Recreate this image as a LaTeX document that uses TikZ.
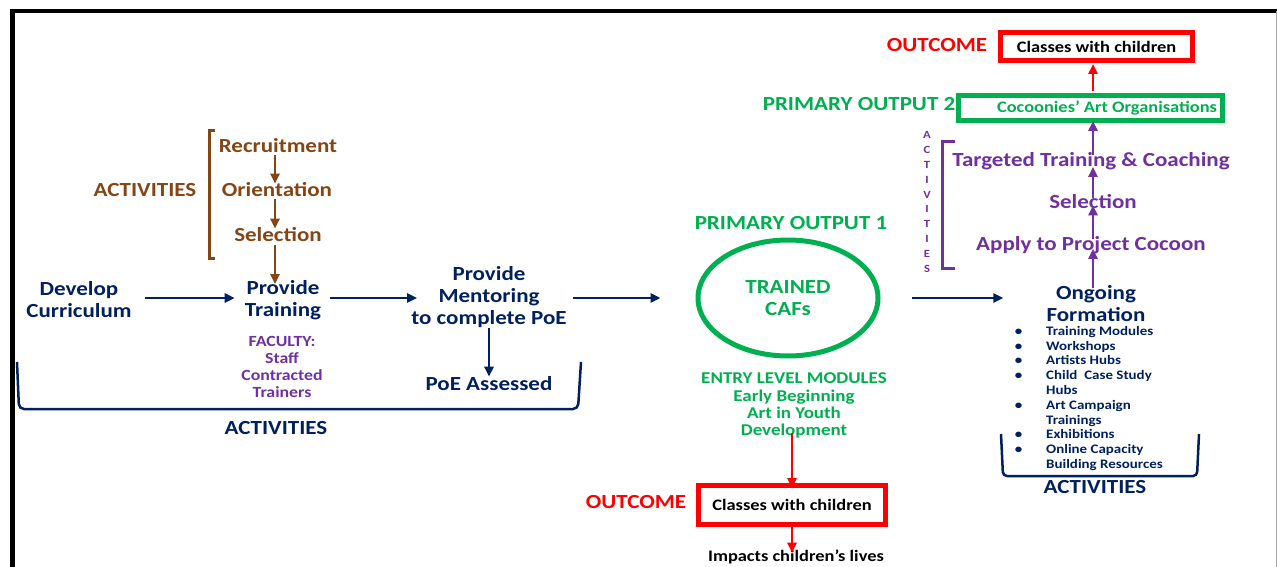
\documentclass[tikz,border=0pt]{standalone}
\usepackage{fontspec}
\setmainfont{Carlito}[FakeStretch=1.15]
\usetikzlibrary{arrows.meta,shapes.geometric}
\definecolor{brn}{RGB}{133,70,20}
\definecolor{navy}{RGB}{0,32,96}
\definecolor{purp}{RGB}{112,48,160}
\definecolor{grn}{RGB}{0,176,80}
\definecolor{rd}{RGB}{255,0,0}
\newcommand\bul{\llap{\textbullet\hspace{24pt}}}
\tikzset{
  txt/.style={font=\bfseries\fontsize{20}{22}\selectfont, inner sep=0pt, align=center},
  sml/.style={font=\bfseries\fontsize{16}{17.2}\selectfont, inner sep=0pt, align=center},
  lst/.style={font=\bfseries\fontsize{13}{14.8}\selectfont, inner sep=0pt, align=left},
  arr/.style={line width=2.8pt, -{Triangle[length=10pt,width=9pt]}},
  brk/.style={line width=3pt},
  boxed/.style={line width=5pt, draw, inner sep=0pt, font=\bfseries\fontsize{16}{17}\selectfont},
}
\begin{document}
\begin{tikzpicture}[x=1pt,y=-1pt]
\useasboundingbox (0,0) rectangle (1277,567);
% frame
\draw[line width=4pt] (10,11) -- (1277,11);
\draw[line width=5pt] (12.5,9) -- (12.5,567);
\draw[black!35, line width=1pt] (1276,11) -- (1276,567);

% ---- training pipeline (left) ----
\node[txt, text=navy] (dev) at (79,300) {Develop\\Curriculum};
\node[txt, text=navy] (ptr) at (283,300) {Provide\\Training};
\node[txt, text=navy] (ment) at (489,297) {Provide\\Mentoring\\to complete PoE};
\node[txt, text=navy] (poe) at (489,384) {PoE Assessed};
\node[sml, text=purp, font=\bfseries\fontsize{15.5}{17.2}\selectfont] (fac) at (282,367) {FACULTY:\\Staff\\Contracted\\Trainers};

\node[txt, text=brn] (rec) at (278,146) {Recruitment};
\node[txt, text=brn] (ori) at (277,190) {Orientation};
\node[txt, text=brn] (sel) at (278,235) {Selection};
\node[txt, text=brn] (actb) at (145,190) {ACTIVITIES};
\draw[brn, brk] (215,131) -- (209,131) -- (209,258) -- (215,258);
\coordinate (bx) at (275,0);
\draw[brn, arr] (bx |- rec.south) ++(0,2) -- ([yshift=-1pt]bx |- ori.north);
\draw[brn, arr] (bx |- ori.south) ++(0,2) -- ([yshift=-1pt]bx |- sel.north);
\draw[brn, arr] (bx |- sel.south) ++(0,3) -- ([yshift=-4pt]bx |- ptr.north);

\coordinate (ly) at (0,298);
\draw[navy, arr] ([xshift=13pt]ly -| dev.east) -- ([xshift=-10pt]ly -| ptr.west);
\draw[navy, arr] ([xshift=9pt]ly -| ptr.east) -- ([xshift=6pt]ly -| ment.west);
\draw[navy, arr] (ment.south) -- (poe.north);
\draw[navy, line width=2.5pt, rounded corners=5pt] (17,362) -- (19,409) -- (578,409) -- (581,362);
\node[txt, text=navy] (actl) at (276,428) {ACTIVITIES};

% ---- primary output 1 ----
\node[txt, text=grn] (po1) at (791,223) {PRIMARY OUTPUT 1};
\node[txt, text=grn, draw=grn, line width=5pt, ellipse, minimum width=180pt, minimum height=116pt] (caf) at (788,298) {TRAINED\\CAFs};
\draw[navy, arr] ([xshift=6pt]ly -| ment.east) -- ([xshift=-35pt]ly -| caf.west);
\node[sml, text=grn, font=\bfseries\fontsize{16.5}{17.2}\selectfont] (entry) at (794,405.5) {ENTRY LEVEL MODULES\\Early Beginning\\Art in Youth\\Development};
\node[boxed, draw=rd, minimum width=187pt, minimum height=39pt] (cls1) at (792,505) {Classes with children};
\node[txt, text=rd] (out1) at (636,502) {OUTCOME};
\coordinate (cx) at (792,0);
\draw[rd, arr] ([yshift=5pt]cx |- entry.south) -- ([yshift=-5pt]cx |- cls1.north);
\node[sml] (imp) at (796,557) {Impacts children’s lives};
\draw[rd, arr] (cx |- cls1.south) -- ([yshift=-3pt]cx |- imp.north);

% ---- ongoing formation (right) ----
\node[txt, text=navy] (ong) at (1096,304) {Ongoing\\Formation};
\draw[navy, arr] ([xshift=31pt]ly -| caf.east) -- ([xshift=-43pt]ly -| ong.west);
\node[lst, text=navy, anchor=north west] (list) at (1046,326) {\bul Training Modules\\\bul Workshops\\\bul Artists Hubs\\\bul Child\ \ Case Study\\Hubs\\\bul Art Campaign\\Trainings\\\bul Exhibitions\\\bul Online Capacity\\Building Resources};
\draw[navy, line width=2.5pt, rounded corners=4pt] (1001,434) -- (1003,476) -- (1197,476) -- (1199,434);
\node[txt, text=navy] (actr) at (1095,487) {ACTIVITIES};

\node[txt, text=purp] (apply) at (1091,245) {Apply to Project Cocoon};
\node[txt, text=purp] (sel2) at (1093,202) {Selection};
\node[txt, text=purp] (ttc) at (1091,161) {Targeted Training \& Coaching};
\node[font=\bfseries\fontsize{11}{14.9}\selectfont, text=purp, align=center, inner sep=0pt] (vact) at (927,202) {A\\C\\T\\I\\V\\I\\T\\I\\E\\S};
\draw[purp, brk] (955,142) -- (942,142) -- (942,268) -- (955,268);

\node[boxed, draw=grn, text=grn, minimum width=264pt, minimum height=25pt] (org) at (1090.5,108) {\hspace*{33pt}Cocoonies’ Art Organisations};
\node[txt, text=grn] (po2) at (859,104) {PRIMARY OUTPUT 2};
\node[boxed, draw=rd, minimum width=192pt, minimum height=28pt] (cls2) at (1096.5,46.5) {Classes with children};
\node[txt, text=rd] (out2) at (937,45) {OUTCOME};

\coordinate (ax) at (1093,0);
\draw[purp, arr] ([yshift=-2pt]ax |- ong.north) -- ([yshift=5pt]ax |- apply.south);
\draw[purp, arr] ([yshift=-3pt]ax |- apply.north) -- ([yshift=4pt]ax |- sel2.south);
\draw[purp, arr] ([yshift=-3pt]ax |- sel2.north) -- ([yshift=3pt]ax |- ttc.south);
\draw[purp, arr] ([yshift=-3pt]ax |- ttc.north) -- ([yshift=2pt]ax |- org.south);
\draw[rd, arr] ([yshift=2pt]ax |- org.north) -- ([yshift=-1pt]ax |- cls2.south);
\end{tikzpicture}
\end{document}
